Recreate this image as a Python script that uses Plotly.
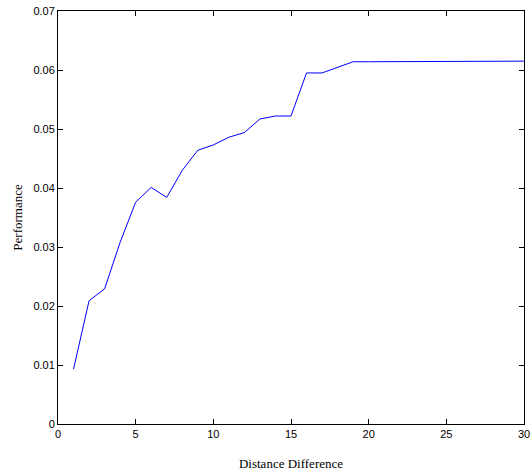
import plotly.graph_objects as go

distance = list(range(1, 31))
performance = [0.0093, 0.0209, 0.0229, 0.0308, 0.0376, 0.0401, 0.0384, 0.0430, 0.0464, 0.0473,
               0.0486, 0.0494, 0.0517, 0.0522, 0.0522, 0.0595, 0.0595, 0.0605, 0.0614, 0.0614,
               0.0614, 0.0615, 0.0615, 0.0615, 0.0615, 0.0615, 0.0615, 0.0615, 0.0615, 0.0615]

x_ticks = [0, 5, 10, 15, 20, 25, 30]
y_ticks = [0, 0.01, 0.02, 0.03, 0.04, 0.05, 0.06, 0.07]

fig = go.Figure(go.Scatter(x=distance, y=performance, mode="lines",
                           line=dict(color="#0000ff", width=1)))

axis_common = dict(showgrid=False, zeroline=False, showline=True, linecolor="black", linewidth=1,
                   mirror="ticks", ticks="inside", ticklen=5, tickcolor="black", automargin=False,
                   tickfont=dict(family="Liberation Sans, Arial", size=11, color="black"))

fig.update_xaxes(range=[0, 30], tickvals=x_ticks, ticktext=[str(v) for v in x_ticks],
                 title=dict(text="Distance Difference", font=dict(family="Liberation Serif, Times New Roman", size=13, color="black"), standoff=19),
                 **axis_common)
fig.update_yaxes(range=[0, 0.07], tickvals=y_ticks, ticktext=["0" if v == 0 else f"{v:.2f}" for v in y_ticks],
                 title=dict(text="Performance", font=dict(family="Liberation Serif, Times New Roman", size=13, color="black"), standoff=7),
                 **axis_common)

fig.update_layout(width=531, height=474, margin=dict(l=58, r=7, t=11, b=50),
                  paper_bgcolor="white", plot_bgcolor="white", showlegend=False)

fig.write_html("out.html", post_script="document.body.style.margin='0';",
               config={"displayModeBar": False})
